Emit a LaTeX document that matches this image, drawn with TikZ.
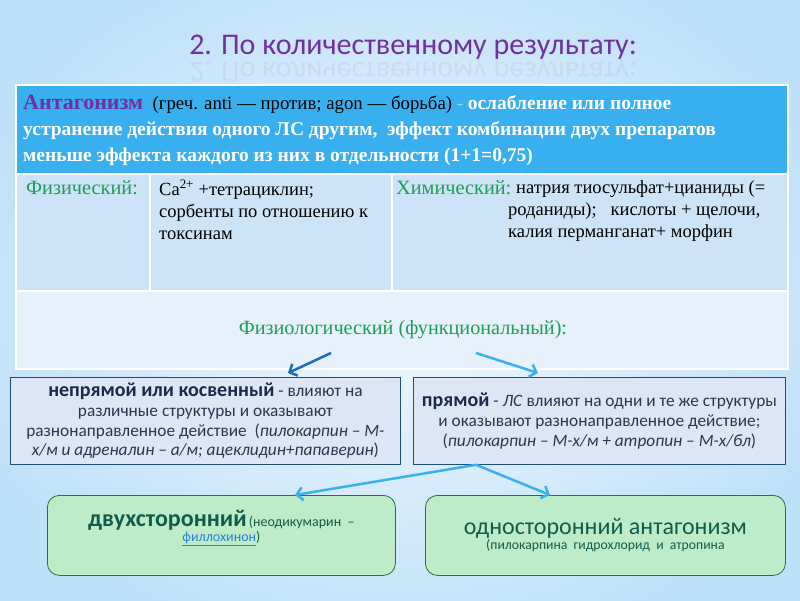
\documentclass[tikz,border=0pt]{standalone}
\usepackage{fontspec}
\setmainfont{Liberation Serif}
\newfontfamily\cand{Carlito}
\usetikzlibrary{arrows.meta, positioning}
\definecolor{bgblue}{RGB}{190,224,248}
\definecolor{headblue}{RGB}{56,176,240}
\definecolor{rowblue}{RGB}{204,227,248}
\definecolor{rowpale}{RGB}{230,241,252}
\definecolor{titlepurple}{RGB}{112,48,160}
\definecolor{phygreen}{RGB}{30,158,84}
\definecolor{navy}{RGB}{27,42,74}
\definecolor{boxtext}{RGB}{43,55,80}
\definecolor{boxblue}{RGB}{220,230,245}
\definecolor{boxline}{RGB}{31,78,121}
\definecolor{arrowdark}{RGB}{25,110,190}
\definecolor{arrowlight}{RGB}{60,175,240}
\definecolor{mintfill}{RGB}{190,235,200}
\definecolor{mintline}{RGB}{40,110,70}
\definecolor{tealtext}{RGB}{18,92,76}
\definecolor{linkblue}{RGB}{40,130,220}
\definecolor{dashcyan}{RGB}{150,225,250}

\begin{document}
\begin{tikzpicture}[
    x=1pt, y=-1pt,
    cell/.style={rectangle, draw=white, line width=1.5pt, inner sep=0pt, anchor=north west},
    celltext/.style={inner sep=0pt, anchor=north west, align=left, font=\fontsize{18.5}{22}\selectfont},
    kindbox/.style={rectangle, draw=boxline, line width=0.8pt, fill=boxblue, inner sep=0pt,
        anchor=north west, align=center, text=boxtext, font=\cand\fontsize{17.3}{19.7}\selectfont},
    sidebox/.style={rectangle, rounded corners=12pt, draw=mintline, line width=0.8pt, fill=mintfill,
        inner sep=0pt, anchor=north west, align=center, text=tealtext, font=\cand},
    link/.style={-{Straight Barb[length=6pt, width=13pt]}, line width=2.5pt}
]
    % Background
    \useasboundingbox (0,0) rectangle (800,600);
    \fill[bgblue] (0,0) rectangle (800,600);
    \shade[inner color=white!80!bgblue, outer color=bgblue] (-60,-60) rectangle (860,660);

    % Title
    \node[font=\cand\fontsize{30}{32}\selectfont, text=titlepurple] (title) at (413,47) {2. По количественному результату:};
    \node[font=\cand\fontsize{30}{32}\selectfont, text=titlepurple, opacity=0.07, yscale=-1, transform shape] (titlerefl) at (413,70) {2. По количественному результату:};

    % Table cells
    \node[cell, fill=headblue, minimum width=772, minimum height=89] (headcell) at (15,84) {};
    \node[cell, fill=rowblue, minimum width=134, minimum height=117] (physcell) at (15,173) {};
    \node[cell, fill=rowblue, minimum width=242, minimum height=117] (examplecell) at (149,173) {};
    \node[cell, fill=rowblue, minimum width=396, minimum height=117] (chemcell) at (391,173) {};
    \node[cell, fill=rowpale, minimum width=772, minimum height=78] (funccell) at (15,290) {};

    % Table texts
    \node[celltext, font=\fontsize{18.8}{26}\selectfont] (headtext) at (23,95)
        {{\color{titlepurple}\fontsize{22}{26}\selectfont\bfseries Антагонизм}\ \ (греч. anti — против; agon — борьба) {\color{dashcyan}-} {\fontsize{19.5}{26}\selectfont\bfseries\color{white}ослабление или полное}\\
         {\fontsize{19.5}{26}\selectfont\bfseries\color{white}устранение действия одного ЛС другим,\ \ эффект комбинации двух препаратов}\\
         {\fontsize{19.5}{26}\selectfont\bfseries\color{white}меньше эффекта каждого из них в отдельности (1+1=0,75)}};
    \node[celltext, text=phygreen, font=\fontsize{20.3}{22}\selectfont] (physlabel) at (26,180) {Физический:};
    \node[celltext] (physex) at (159,180) {Ca\textsuperscript{2+} +тетрациклин;\\ сорбенты по отношению к\\ токсинам};
    \node[celltext, text=phygreen, font=\fontsize{20.3}{22}\selectfont] (chemlabel) at (396,180) {Химический:};
    \node[celltext] (chemex) at (508,180) {\hspace*{8pt}натрия тиосульфат+цианиды (=\\ роданиды);\ \ \ кислоты + щелочи,\\ калия перманганат+ морфин};
    \node[text=phygreen, font=\fontsize{20.2}{22}\selectfont] (funclabel) at (403,330) {Физиологический (функциональный):};
    \coordinate (funcL) at (331,353);
    \coordinate (funcR) at (476,353);

    % Two kinds
    \node[kindbox, minimum width=390, minimum height=87] (indirect) at (10,377)
        {{\fontsize{20}{20}\selectfont\bfseries\color{navy}непрямой или косвенный} - влияют на\\
         различные структуры и оказывают\\
         разнонаправленное действие\ \ (\textit{пилокарпин – М-}\\
         \textit{х/м и адреналин – а/м; ацеклидин+папаверин})};
    \node[kindbox, minimum width=372, minimum height=87] (direct) at (413,377)
        {{\fontsize{20}{20}\selectfont\bfseries\color{navy}прямой} - \textit{ЛС} влияют на одни и те же структуры\\
         и оказывают разнонаправленное действие;\\
         (\textit{пилокарпин – М-х/м + атропин – М-х/бл})};

    % Sides
    \node[sidebox, minimum width=348, minimum height=80] (twoway) at (47,495)
        {{\fontsize{24}{26}\selectfont\bfseries двухсторонний} {\fontsize{14}{17}\selectfont(неодикумарин\ \ –}\\
         {\fontsize{14}{17}\selectfont\textcolor{linkblue}{\underline{филлохинон}})}\\[8pt]};
    \node[sidebox, minimum width=360, minimum height=80] (oneway) at (425,495)
        {{\fontsize{24}{27}\selectfont односторонний антагонизм}\\
         {\fontsize{13.7}{17}\selectfont(пилокарпина\ \ гидрохлорид\ \ и\ \ атропина}};

    % Arrows
    \draw[link, arrowdark] (funcL) -- ([xshift=278pt, yshift=4pt]indirect.north west);
    \draw[link, arrowlight] (funcR) -- ([xshift=125pt, yshift=4pt]direct.north west);
    \draw[link, arrowlight] ([xshift=63pt]direct.south west) -- ([xshift=248pt]twoway.north west);
    \draw[link, arrowlight] ([xshift=63pt]direct.south west) -- ([xshift=125pt]oneway.north west);
\end{tikzpicture}
\end{document}
